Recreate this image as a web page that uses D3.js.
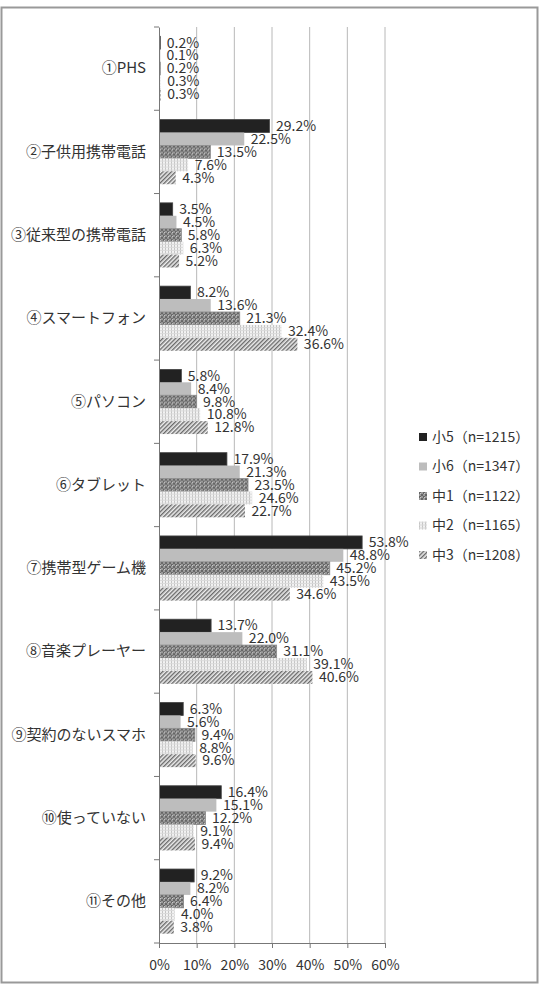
<!DOCTYPE html>
<html>
<head>
<meta charset="utf-8">
<script src="https://cdn.jsdelivr.net/npm/d3@7"></script>
<style>
  body { margin: 0; background: #fff; }
  text { font-family: "Noto Sans CJK JP", "Noto Sans", sans-serif; fill: #333; }
</style>
</head>
<body>
<div id="chart"></div>
<script>
var categories = ["①PHS", "②子供用携帯電話", "③従来型の携帯電話", "④スマートフォン", "⑤パソコン",
  "⑥タブレット", "⑦携帯型ゲーム機", "⑧音楽プレーヤー", "⑨契約のないスマホ", "⑩使っていない", "⑪その他"];
var seriesNames = ["小5（n=1215）", "小6（n=1347）", "中1（n=1122）", "中2（n=1165）", "中3（n=1208）"];
var sho5 = [0.2, 29.2, 3.5, 8.2, 5.8, 17.9, 53.8, 13.7, 6.3, 16.4, 9.2];
var sho6 = [0.1, 22.5, 4.5, 13.6, 8.4, 21.3, 48.8, 22.0, 5.6, 15.1, 8.2];
var chu1 = [0.2, 13.5, 5.8, 21.3, 9.8, 23.5, 45.2, 31.1, 9.4, 12.2, 6.4];
var chu2 = [0.3, 7.6, 6.3, 32.4, 10.8, 24.6, 43.5, 39.1, 8.8, 9.1, 4.0];
var chu3 = [0.3, 4.3, 5.2, 36.6, 12.8, 22.7, 34.6, 40.6, 9.6, 9.4, 3.8];
var xTicks = [0, 10, 20, 30, 40, 50, 60];

var seriesValues = [sho5, sho6, chu1, chu2, chu3];
var W = 539, H = 988;
var margin = {top: 27, left: 159, right: 154, bottom: 45};
var width = W - margin.left - margin.right,
    height = H - margin.top - margin.bottom;

var svg = d3.select("#chart").append("svg")
  .attr("width", W).attr("height", H);

// patterns
var defs = svg.append("defs");
var p1 = defs.append("pattern").attr("id", "pChu1").attr("patternUnits", "userSpaceOnUse")
  .attr("width", 4).attr("height", 4);
p1.append("rect").attr("width", 4).attr("height", 4).attr("fill", "#9a9a9a");
p1.append("rect").attr("width", 2).attr("height", 2).attr("fill", "#666");
p1.append("rect").attr("x", 2).attr("y", 2).attr("width", 2).attr("height", 2).attr("fill", "#666");
p1.append("rect").attr("x", 1).attr("y", 1).attr("width", 1).attr("height", 1).attr("fill", "#ccc");

var p2 = defs.append("pattern").attr("id", "pChu2").attr("patternUnits", "userSpaceOnUse")
  .attr("width", 3).attr("height", 3);
p2.append("rect").attr("width", 3).attr("height", 3).attr("fill", "#f2f2f2");
p2.append("rect").attr("width", 1).attr("height", 3).attr("fill", "#c4c4c4");
p2.append("rect").attr("width", 3).attr("height", 1).attr("y", 2).attr("fill", "#dadada");

var p3 = defs.append("pattern").attr("id", "pChu3").attr("patternUnits", "userSpaceOnUse")
  .attr("width", 3).attr("height", 3).attr("patternTransform", "rotate(45)");
p3.append("rect").attr("width", 3).attr("height", 3).attr("fill", "#eee");
p3.append("rect").attr("width", 1.4).attr("height", 3).attr("fill", "#6a6a6a");

var fills = ["#222", "#bdbdbd", "url(#pChu1)", "url(#pChu2)", "url(#pChu3)"];
var strokes = ["#444", "none", "#888", "none", "none"];

// frame
svg.append("rect").attr("x", 1.5).attr("y", 7.5).attr("width", 536).attr("height", 975)
  .attr("fill", "none").attr("stroke", "#999").attr("stroke-width", 2);

var g = svg.append("g").attr("transform", "translate(" + margin.left + "," + margin.top + ")");

var x = d3.scaleLinear().domain([0, 60]).range([0, width]);
var y = d3.scaleBand().domain(categories).range([0, height]).paddingInner(0.2236).paddingOuter(0.1118);
var ys = d3.scaleBand().domain(d3.range(5)).range([0, y.bandwidth()]);

// gridlines
g.selectAll(".grid").data(xTicks.slice(1)).enter().append("line")
  .attr("x1", function (d) { return x(d); }).attr("x2", function (d) { return x(d); })
  .attr("y1", 0).attr("y2", height)
  .attr("stroke", "#b8b8b8").attr("stroke-width", 1);

// bars
categories.forEach(function (c, i) {
  var grp = g.append("g").attr("transform", "translate(0," + y(c) + ")");
  seriesValues.forEach(function (vals, s) {
    grp.append("rect")
      .attr("x", 0.5)
      .attr("y", ys(s))
      .attr("width", Math.max(x(vals[i]), 0.8))
      .attr("height", ys.bandwidth())
      .attr("fill", fills[s])
      .attr("stroke", strokes[s]).attr("stroke-width", 0.8);
    grp.append("text")
      .attr("x", x(vals[i]) + 7)
      .attr("y", ys(s) + ys.bandwidth() / 2 + 1)
      .attr("dominant-baseline", "middle")
      .style("font-size", "14px")
      .text(vals[i].toFixed(1) + "%");
  });
});

// y axis
var yAxis = d3.axisLeft(y).tickSize(0).tickPadding(13);
var ya = g.append("g").call(yAxis);
ya.select(".domain").attr("stroke", "#777");
ya.selectAll("text").style("font-size", "15px").style("fill", "#333")
  .style("font-family", "'Noto Sans CJK JP', sans-serif");
// category boundary ticks
var bounds = d3.range(categories.length + 1).map(function (k) { return k * y.step(); });
g.selectAll(".btick").data(bounds).enter().append("line")
  .attr("x1", -5).attr("x2", 0)
  .attr("y1", function (d) { return Math.min(d, height); })
  .attr("y2", function (d) { return Math.min(d, height); })
  .attr("stroke", "#777");

// x axis
var xAxis = d3.axisBottom(x).tickValues(xTicks).tickSize(5).tickPadding(12)
  .tickFormat(function (d) { return d + "%"; });
var xa = g.append("g").attr("transform", "translate(0," + height + ")").call(xAxis);
xa.select(".domain").attr("stroke", "#777");
xa.selectAll(".tick line").attr("stroke", "#777");
xa.selectAll("text").style("font-size", "14px").style("fill", "#333")
  .style("font-family", "'Noto Sans CJK JP', sans-serif");

// legend
var legend = svg.append("g").attr("transform", "translate(419,437)");
seriesNames.forEach(function (n, s) {
  var row = legend.append("g").attr("transform", "translate(0," + (s * 29.5) + ")");
  row.append("rect").attr("x", 0).attr("y", -4).attr("width", 8).attr("height", 8)
    .attr("fill", fills[s]);
  row.append("text").attr("x", 13).attr("y", 1).attr("dominant-baseline", "middle")
    .style("font-size", "14px").text(n);
});
</script>
</body>
</html>
